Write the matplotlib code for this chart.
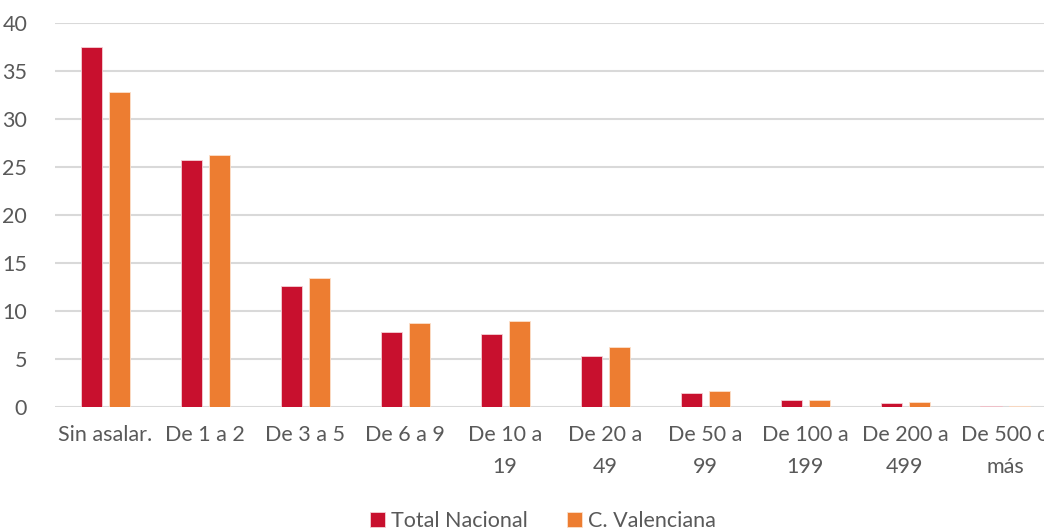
import numpy as np
import matplotlib.pyplot as plt

categories = ["Sin asalar.", "De 1 a 2", "De 3 a 5", "De 6 a 9", "De 10 a\n19",
              "De 20 a\n49", "De 50 a\n99", "De 100 a\n199", "De 200 a\n499", "De 500 o\nmás"]
total_nacional = [37.5, 25.7, 12.6, 7.8, 7.6, 5.3, 1.46, 0.78, 0.42, 0.15]
c_valenciana = [32.8, 26.25, 13.4, 8.7, 8.95, 6.2, 1.67, 0.75, 0.52, 0.15]
yticks = [0, 5, 10, 15, 20, 25, 30, 35, 40]

RED = "#C8102E"
ORANGE = "#ED7D31"
TEXT = "#595959"

plt.rcParams["font.family"] = ["Lato", "DejaVu Sans"]

fig = plt.figure(figsize=(10.44, 5.31), dpi=100)
ax = fig.add_axes([55 / 1044, 124 / 531, 1000 / 1044, 384 / 531])

x = np.arange(len(categories))
w = 0.21
off = 0.14
ax.bar(x - off, total_nacional, width=w, color=RED, edgecolor="#f4d0d6", linewidth=0.6,
       label="Total Nacional", zorder=3)
ax.bar(x + off, c_valenciana, width=w, color=ORANGE, edgecolor="#fbe0cc", linewidth=0.6,
       label="C. Valenciana", zorder=3)

ax.set_xlim(-0.5, len(categories) - 0.5)
ax.set_ylim(0, 40)
ax.set_yticks(yticks)
ax.set_xticks(x)
ax.set_xticklabels(categories, linespacing=1.75)
ax.tick_params(axis="y", length=0, pad=20, labelsize=15.5, labelcolor=TEXT)
ax.tick_params(axis="x", length=0, pad=13, labelsize=15.5, labelcolor=TEXT)
ax.yaxis.grid(True, color="#d9d9d9", linewidth=1.5, zorder=0)
for s in ax.spines.values():
    s.set_visible(False)

leg = fig.legend(loc="center", bbox_to_anchor=(543 / 1044, 1 - 521 / 531), ncol=2, frameon=False,
                 fontsize=15.5, handlelength=0.7, handleheight=0.7, handletextpad=0.3,
                 columnspacing=1.8, borderaxespad=0)
for t in leg.get_texts():
    t.set_color(TEXT)

fig.savefig("out.png", dpi=100)
